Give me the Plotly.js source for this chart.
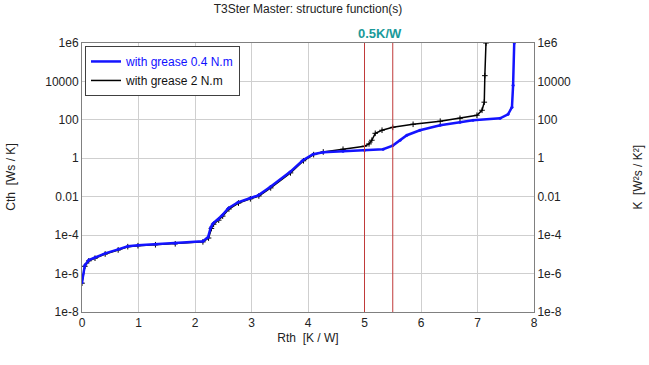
<!DOCTYPE html>
<html>
<head>
<meta charset="utf-8">
<script src="https://cdn.plot.ly/plotly-3.0.1.min.js"></script>
<style>html,body{margin:0;padding:0;background:#fff;}#chart{width:649px;height:365px;}</style>
</head>
<body>
<div id="chart"></div>
<script>
// Rth values [K/W] and log10(Cth [Ws/K])
const blueRth = [0, 0.05, 0.12, 0.23, 0.41, 0.64, 0.81, 0.99, 1.3, 1.65, 2.14, 2.23, 2.28, 2.32, 2.41, 2.48, 2.59, 2.76, 2.97, 3.12, 3.33, 3.68, 3.91, 4.09, 4.27, 4.62, 5.0, 5.33, 5.5, 5.63, 5.75, 5.98, 6.34, 6.69, 6.92, 7.4, 7.54, 7.61, 7.63, 7.65];
const blueLogC = [-6.46, -5.57, -5.3, -5.16, -4.95, -4.74, -4.58, -4.53, -4.48, -4.43, -4.32, -4.11, -3.59, -3.39, -3.18, -2.97, -2.6, -2.29, -2.08, -1.93, -1.5, -0.72, -0.1, 0.21, 0.31, 0.36, 0.42, 0.47, 0.66, 0.94, 1.2, 1.46, 1.72, 1.88, 1.98, 2.08, 2.29, 2.66, 3.8, 6];
const blackRth = [0, 0.05, 0.12, 0.23, 0.41, 0.64, 0.81, 0.99, 1.3, 1.65, 2.14, 2.24, 2.29, 2.33, 2.42, 2.49, 2.6, 2.77, 2.98, 3.13, 3.34, 3.69, 3.92, 4.1, 4.27, 4.62, 5.0, 5.08, 5.13, 5.19, 5.31, 5.5, 5.86, 6.34, 6.69, 6.99, 7.08, 7.12, 7.13, 7.15];
const blackLogC = [-6.5, -5.62, -5.34, -5.2, -4.98, -4.77, -4.6, -4.55, -4.5, -4.45, -4.35, -4.15, -3.65, -3.43, -3.22, -3.01, -2.64, -2.33, -2.11, -1.96, -1.54, -0.76, -0.13, 0.19, 0.33, 0.47, 0.63, 0.75, 0.94, 1.3, 1.46, 1.61, 1.77, 1.93, 2.08, 2.24, 2.5, 2.92, 4.3, 6];
const markerLines = [5, 5.5];
const tickVals = [1e-8, 1e-6, 1e-4, 1e-2, 1, 100, 1e4, 1e6];
const tickText = ['1e-8', '1e-6', '1e-4', '0.01', '1', '100', '10000', '1e6'];
const xTicks = [0, 1, 2, 3, 4, 5, 6, 7, 8];
const seriesNames = ['with grease 0.4 N.m', 'with grease 2 N.m'];

const toC = a => a.map(v => Math.pow(10, v));
const font = {family: 'Liberation Sans, Arial, sans-serif', size: 12, color: '#222'};

const traces = [
  {x: blackRth, y: toC(blackLogC), mode: 'lines', name: seriesNames[1], legendrank: 2,
   line: {color: '#000', width: 1.5}},
  {x: blackRth, y: toC(blackLogC), mode: 'markers', showlegend: false,
   marker: {symbol: 'cross-thin', size: 4, line: {color: '#000', width: 1}}},
  {x: blueRth, y: toC(blueLogC), mode: 'lines', name: '<span style="color:#1010ff">' + seriesNames[0] + '</span>', legendrank: 1,
   line: {color: '#1414ff', width: 2.5}},
  {x: blueRth, y: toC(blueLogC), mode: 'markers', showlegend: false, marker: {size: 3, color: '#1414ff'}},
  {x: [0], y: [1], yaxis: 'y2', mode: 'markers', marker: {opacity: 0}, showlegend: false, hoverinfo: 'skip'}
];

const shapes = markerLines.map(v => ({type: 'line', xref: 'x', yref: 'paper', x0: v, x1: v, y0: 0, y1: 1,
  line: {color: '#c03a3a', width: 1}}));

const axisCommon = {showline: true, linecolor: '#808080', linewidth: 1, mirror: false, gridcolor: '#cfcfcf', gridwidth: 1,
  zeroline: false, tickfont: font, ticks: ''};

const layout = {
  width: 649, height: 365,
  margin: {l: 82, r: 115, t: 43, b: 53},
  paper_bgcolor: '#fff', plot_bgcolor: '#fff',
  font: font,
  title: {text: 'T3Ster Master: structure function(s)', font: {family: font.family, size: 12, color: '#222'},
    x: 0.4746, xanchor: 'center', y: 1 - 9 / 365, yanchor: 'middle', xref: 'container', yref: 'container'},
  xaxis: Object.assign({}, axisCommon, {range: [0, 8], tickvals: xTicks, mirror: true,
    title: {text: 'Rth  [K / W]', font: font, standoff: 4}}),
  yaxis: Object.assign({}, axisCommon, {type: 'log', range: [-8, 6], tickvals: tickVals, ticktext: tickText, mirror: true}),
  yaxis2: Object.assign({}, axisCommon, {type: 'log', range: [-8, 6], tickvals: tickVals, ticktext: tickText,
    overlaying: 'y', side: 'right', showgrid: false}),
  showlegend: true,
  legend: {x: 0.0066, y: 0.989, xanchor: 'left', yanchor: 'top', bgcolor: '#fff', bordercolor: '#404040', borderwidth: 1,
    font: {family: font.family, size: 12, color: '#111'}, tracegroupgap: 0, itemwidth: 30},
  shapes: shapes,
  annotations: [
    {text: '0.5K/W', xref: 'paper', yref: 'paper', x: 0.659, y: 1.037, xanchor: 'center', yanchor: 'middle', showarrow: false,
     font: {family: font.family, size: 13, color: '#1a9a9a', weight: 'bold'}},
    {text: 'Cth  [Ws / K]', xref: 'paper', yref: 'paper', x: -0.159, y: 0.5, textangle: -90, showarrow: false,
     xanchor: 'center', yanchor: 'middle', font: font},
    {text: 'K  [W²s / K²]', xref: 'paper', yref: 'paper', x: 1.228, y: 0.5, textangle: -90, showarrow: false,
     xanchor: 'center', yanchor: 'middle', font: font}
  ]
};

Plotly.newPlot('chart', traces, layout, {displayModeBar: false, staticPlot: true});
</script>
</body>
</html>
